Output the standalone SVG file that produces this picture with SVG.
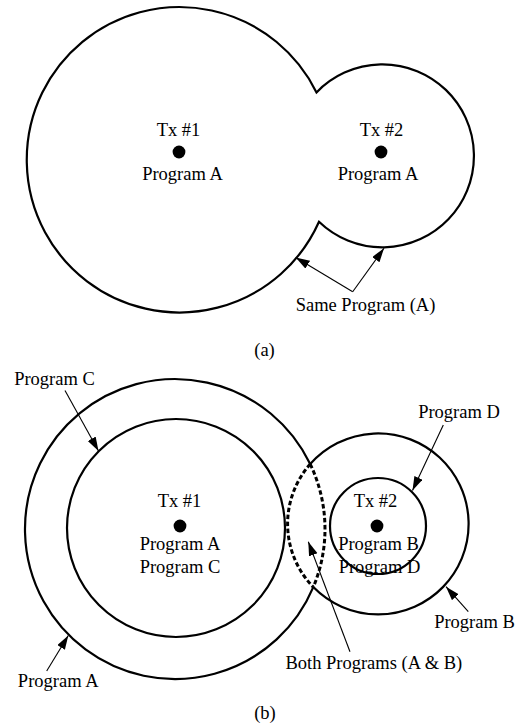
<svg xmlns="http://www.w3.org/2000/svg" width="522" height="727" viewBox="0 0 522 727">
<style>
text{font-family:"Liberation Serif","Times New Roman",serif;font-size:18.5px;fill:#000;text-anchor:middle}
.c{fill:none;stroke:#000;stroke-width:2.2}
.d{fill:none;stroke:#000;stroke-width:3;stroke-dasharray:4.5 2.5}
.a{fill:none;stroke:#000;stroke-width:1.1;marker-end:url(#ah)}
.dot{fill:#000}
</style>
<defs>
<marker id="ah" markerUnits="userSpaceOnUse" markerWidth="15" markerHeight="10" refX="14" refY="4.5" orient="auto">
<path d="M0,0 L14,4.5 L0,9 Z" fill="#000"/>
</marker>
</defs>
<rect width="522" height="727" fill="#fff"/>

<g id="coverage-a">
<path class="c" d="M316.5,92.4 A152.7,152.7 0 1 0 319,221.8 A91.5,91.5 0 1 0 316.5,92.4 Z"/>
</g>
<g id="tx1-a">
<circle class="dot" cx="179" cy="152" r="6.4"/>
<text x="178.5" y="136">Tx #1</text>
<text x="182.5" y="180">Program A</text>
</g>
<g id="tx2-a">
<circle class="dot" cx="381" cy="152" r="6.4"/>
<text x="381.5" y="136">Tx #2</text>
<text x="378" y="180">Program A</text>
</g>
<g id="label-same">
<text x="365.5" y="310.5">Same Program (A)</text>
</g>
<text x="264.5" y="356">(a)</text>

<g id="circle-A-b">
<path class="c" d="M310.2,464.1 A150,150 0 1 0 313.3,587.1"/>
<path class="d" d="M310.2,464.1 A150,150 0 0 1 313.3,587.1"/>
</g>
<g id="circle-C-b">
<circle class="c" cx="176" cy="528" r="109"/>
</g>
<g id="circle-B-b">
<path class="c" d="M313.3,587.1 A90.5,90.5 0 1 0 310.2,464.1"/>
<path class="d" d="M310.2,464.1 A90.5,90.5 0 0 0 313.3,587.1"/>
</g>
<g id="circle-D-b">
<circle class="c" cx="378" cy="526" r="48"/>
</g>
<g id="tx1-b">
<circle class="dot" cx="180" cy="526" r="6.4"/>
<text x="179.5" y="506.5">Tx #1</text>
<text x="180" y="550">Program A</text>
<text x="180" y="572.5">Program C</text>
</g>
<g id="tx2-b">
<circle class="dot" cx="377" cy="526" r="6.4"/>
<text x="375.5" y="506.5">Tx #2</text>
<text x="378.5" y="550">Program B</text>
<text x="379.5" y="572.5">Program D</text>
</g>
<g id="labels-b">
<text x="54.5" y="385">Program C</text>
<text x="459" y="417.5">Program D</text>
<text x="474.5" y="627.5">Program B</text>
<text x="373.8" y="668.5">Both Programs (A &amp; B)</text>
<text x="58.2" y="687">Program A</text>
</g>
<text x="265" y="719">(b)</text>

<g id="connectors">
<line class="a" x1="352.7" y1="291.7" x2="295.7" y2="257.5"/>
<line class="a" x1="352.7" y1="291.7" x2="384" y2="248.3"/>
<line class="a" x1="65" y1="390.5" x2="98.5" y2="451"/>
<line class="a" x1="46.7" y1="671" x2="68.3" y2="635.5"/>
<line class="a" x1="443.3" y1="425" x2="412.5" y2="490.5"/>
<line class="a" x1="468.3" y1="611.7" x2="446" y2="586.7"/>
<line class="a" x1="350" y1="651.7" x2="308.3" y2="541.7"/>
</g>
</svg>
